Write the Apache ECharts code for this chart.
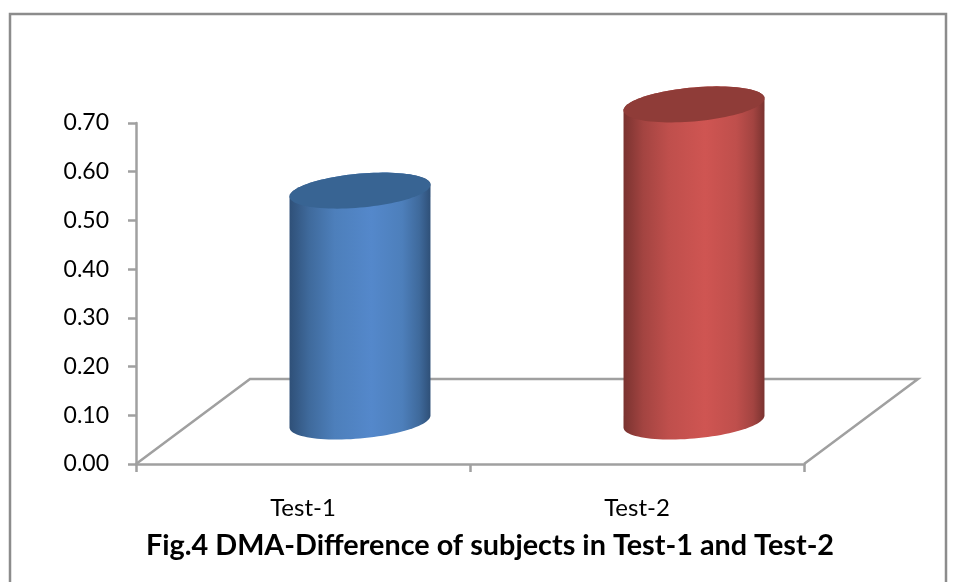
<!DOCTYPE html>
<html><head><meta charset="utf-8">
<style>html,body{margin:0;padding:0;background:#fff}#c{width:956px;height:582px}</style>
<script src="https://cdn.jsdelivr.net/npm/echarts@6/dist/echarts.min.js"></script>
</head><body><div id="c"></div>
<script>
const categories = ['Test-1', 'Test-2'];
const values = [0.476, 0.653];
const yTicks = [0, 0.7, 0.1];
const titleText = 'Fig.4 DMA-Difference of subjects in Test-1 and Test-2';
const palettes = [
  {edge:'#2f5078', dark:'#3f6a9c', mid:'#4d7fbb', light:'#5488cb', top:'#386493'},
  {edge:'#7a3330', dark:'#a34441', mid:'#bf4f4c', light:'#cf5552', top:'#8f3c38'}
];
const DEPTH_X = 114, DEPTH_Y = 85;
const FONT = 'Lato';

function ellipsePts(cx, cy, a, b, k, from, to, n) {
  const pts = [];
  for (let i = 0; i <= n; i++) {
    const t = from + (to - from) * i / n;
    pts.push([cx + a * Math.cos(t), cy - k * Math.cos(t) + b * Math.sin(t)]);
  }
  return pts;
}
function cylinder(params, api) {
  const idx = api.value(0);
  const base = api.coord([idx, 0]);
  const top = api.coord([idx, api.value(1)]);
  const p = palettes[params.dataIndex];
  const cx = base[0] + DEPTH_X / 2;
  const yb = base[1] - DEPTH_Y / 2;
  const yt = top[1] - DEPTH_Y / 2 + 1;
  const a = api.size([1, 0])[0] * 0.211, b = 17, k = 6;
  const lower = ellipsePts(cx, yb, a, b, k, 0, Math.PI, 48);
  const upper = ellipsePts(cx, yt, a, b, k, Math.PI, 2 * Math.PI, 48);
  const grad = new echarts.graphic.LinearGradient(0, 0, 1, 0, [
    {offset: 0, color: p.edge}, {offset: 0.14, color: p.dark}, {offset: 0.32, color: p.mid},
    {offset: 0.58, color: p.light}, {offset: 0.8, color: p.mid}, {offset: 0.92, color: p.dark}, {offset: 1, color: p.edge}
  ]);
  return {type: 'group', children: [
    {type: 'polygon', shape: {points: lower.concat(upper)}, style: {fill: grad}},
    {type: 'polygon', shape: {points: ellipsePts(cx, yt, a, b, k, 0, 2 * Math.PI, 96)}, style: {fill: p.top}}
  ]};
}
function floor(params) {
  const g = params.coordSys;
  const xl = g.x, xr = g.x + g.width, yb = g.y + g.height;
  return {type: 'polyline', shape: {points: [[xl, yb], [xl + DEPTH_X, yb - DEPTH_Y], [xr + DEPTH_X, yb - DEPTH_Y], [xr, yb]]},
    style: {stroke: '#a0a0a0', lineWidth: 2.5, fill: null}};
}
const chart = echarts.init(document.getElementById('c'), null, {renderer: 'canvas'});
chart.setOption({
  animation: false,
  backgroundColor: '#fff',
  graphic: [{type: 'rect', shape: {x: 10, y: 14, width: 936, height: 600}, style: {fill: null, stroke: '#8c8c8c', lineWidth: 2.5}, silent: true, z: 0}],
  title: {text: titleText, left: 485, top: 526, textAlign: 'center',
    textStyle: {fontFamily: FONT, fontWeight: 'bold', fontSize: 28.8, color: '#000'}},
  grid: {left: 136, right: 152, top: 123, bottom: 118},
  xAxis: {type: 'category', data: categories,
    axisLine: {show: true, lineStyle: {color: '#a0a0a0', width: 2.5}},
    axisTick: {show: true, alignWithLabel: false, length: 8, lineStyle: {color: '#a0a0a0', width: 2.5}},
    axisLabel: {margin: 32, fontFamily: FONT, fontSize: 24, color: '#000'}},
  yAxis: {type: 'value', min: yTicks[0], max: yTicks[1], interval: yTicks[2],
    splitLine: {show: false},
    axisLine: {show: true, lineStyle: {color: '#a0a0a0', width: 2.5}},
    axisTick: {show: true, length: 8, lineStyle: {color: '#a0a0a0', width: 2.5}},
    axisLabel: {margin: 27, fontFamily: FONT, fontSize: 23, color: '#000', formatter: v => v.toFixed(2)}},
  series: [
    {type: 'custom', coordinateSystem: 'cartesian2d', renderItem: floor, data: [[0, 0]], silent: true, z: 1},
    {type: 'custom', coordinateSystem: 'cartesian2d', renderItem: cylinder, clip: false, z: 2,
      encode: {x: 0, y: 1}, data: values.map((v, i) => [i, v])}
  ]
});
</script></body></html>
